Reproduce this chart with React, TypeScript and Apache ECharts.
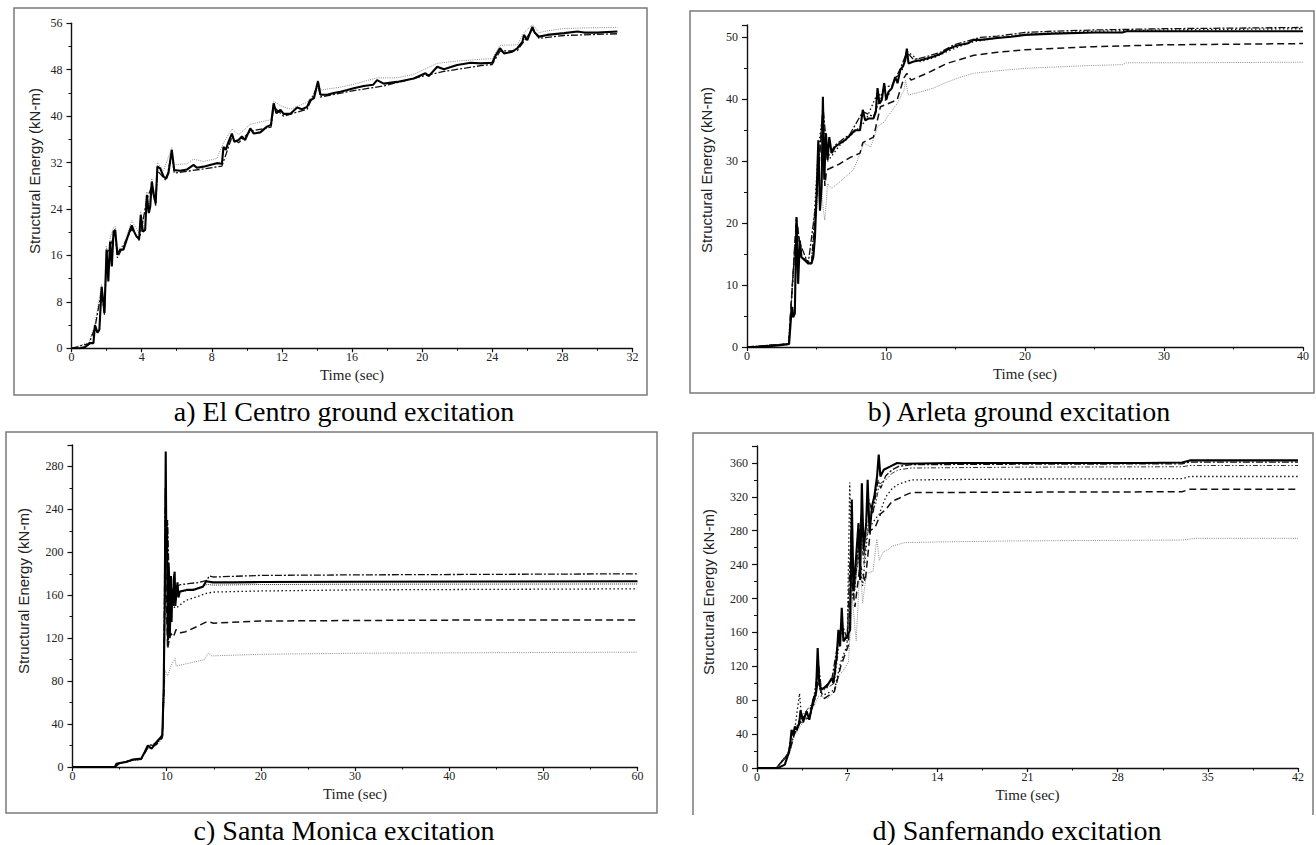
import React, { useEffect, useRef } from "react";
import * as echarts from "echarts";

type P = [number, number][];

// ---------- a) El Centro ----------
const elCentroSolid: P = [[0,0],[0.5,0],[0.77,0.2],[1.06,0.9],[1.25,0.9],[1.34,4.0],[1.48,2.7],[1.59,3.2],[1.72,10.6],[1.88,6.1],[2.0,17],[2.1,11.5],[2.2,18.4],[2.3,14.1],[2.4,20.1],[2.49,20.4],[2.62,16.1],[2.77,17],[2.96,17],[3.15,18.7],[3.34,20.4],[3.44,21.2],[3.57,20.1],[3.72,19.2],[3.86,19],[3.95,23],[4.07,20.1],[4.2,20.4],[4.3,26.4],[4.41,23.3],[4.49,24.4],[4.58,28.7],[4.71,26.1],[4.8,25],[4.9,31.3],[5.06,31],[5.25,29.6],[5.4,29.3],[5.53,30.2],[5.72,34.2],[5.86,30.7],[6.2,30.6],[6.58,30.8],[6.96,31.6],[7.15,31.1],[7.53,31.3],[7.9,31.6],[8.29,31.9],[8.58,31.8],[8.67,34.7],[8.8,34.2],[8.96,35.6],[9.15,37],[9.29,35.6],[9.53,35.9],[9.72,36.5],[9.9,35.9],[10.2,37.9],[10.4,37],[10.77,37.2],[11.15,38.2],[11.38,38.5],[11.53,42.2],[11.69,40.5],[11.92,41.1],[12.1,40.4],[12.49,40.4],[12.87,41.5],[13.15,41.2],[13.44,41.6],[13.6,42.7],[13.83,43.1],[14.06,46],[14.2,43.7],[14.58,43.7],[14.96,44],[15.34,44.2],[15.73,44.5],[16.1,44.8],[16.67,45.2],[17.2,45.4],[17.43,46.2],[17.81,45.6],[18.57,45.9],[19.52,46.5],[20.19,47.4],[20.38,46.9],[20.86,48.5],[21.24,48.1],[22.0,48.8],[22.77,49.2],[23.34,49.1],[24.0,49.2],[24.2,50.5],[24.44,51.7],[24.67,50.8],[25.14,51.1],[25.43,51.7],[25.72,52.8],[25.81,54],[26.0,53.1],[26.15,54.3],[26.29,55.4],[26.42,54.4],[26.67,53.7],[27.14,54],[28.1,54.3],[28.86,54.6],[29.24,54.4],[30.0,54.4],[31.14,54.6]];
const elCentroDotted: P = [[0,0],[1.0,1.0],[1.34,4.2],[1.72,11],[1.88,6.6],[2.0,17.6],[2.1,12.2],[2.2,19],[2.4,20.8],[2.5,21],[2.62,17],[2.96,17.8],[3.44,22],[3.86,19.8],[3.95,23.6],[4.07,20.8],[4.3,27],[4.41,24],[4.58,29.3],[4.8,25.8],[4.9,32],[5.25,30.6],[5.72,34.6],[5.86,31.6],[6.58,31.8],[6.96,32.6],[7.53,32.2],[8.29,32.7],[8.67,35.4],[9.15,37.8],[9.53,36.8],[10.2,38.6],[11.38,39.4],[11.53,42.6],[11.92,41.8],[12.49,41.2],[13.44,42.4],[13.83,43.8],[14.06,46.2],[14.2,44.5],[15.34,45],[16.1,45.5],[17.43,46.6],[18.57,46.6],[19.52,47.2],[20.86,49.1],[22.0,49.5],[23.34,49.8],[24.0,49.9],[24.44,52.2],[25.43,52.3],[25.81,54.4],[26.29,55.8],[26.67,54.4],[27.14,54.7],[28.1,55.1],[29.24,55.2],[31.14,55.3]];
const elCentroDashDot: P = [[0,0],[1.0,0.8],[1.34,3.6],[1.72,10],[1.88,5.8],[2.0,16.2],[2.2,17.6],[2.49,19.8],[2.62,15.6],[3.44,20.6],[3.86,18.6],[4.3,25.6],[4.58,28],[4.8,24.6],[4.9,30.6],[5.4,28.9],[5.72,33.6],[5.86,30.2],[7.53,30.9],[8.58,31.4],[9.15,36.4],[9.53,35.4],[10.2,37.4],[11.38,38.1],[11.53,41.6],[12.1,40],[13.44,41.2],[14.06,45.4],[14.2,43.3],[16.1,44.4],[17.81,45.2],[20.19,47],[21.24,47.7],[23.34,48.7],[24.0,48.9],[24.44,51.2],[25.43,51.3],[26.29,54.9],[26.67,53.4],[28.1,53.9],[31.14,54.2]];

// ---------- b) Arleta ----------
const arletaSolid: P = [[0,0],[1,0],[2.36,0.27],[2.84,0.4],[3.03,0.5],[3.15,4.3],[3.25,6.5],[3.32,4.8],[3.44,5.4],[3.56,21],[3.68,10.2],[3.8,17.2],[3.92,14.5],[4.16,14],[4.4,13.5],[4.64,13.5],[4.77,14.5],[4.89,17.8],[5.0,24.2],[5.13,33.4],[5.25,22],[5.37,25.9],[5.46,40.4],[5.56,27],[5.68,34.5],[5.8,30.2],[5.92,33.9],[6.09,31.3],[6.33,32.3],[6.69,32.9],[7.05,33.4],[7.41,34.2],[7.77,35],[8.13,35],[8.33,38.3],[8.5,36.6],[8.74,36.9],[9.1,36.9],[9.27,38],[9.39,41.8],[9.53,39.3],[9.7,39.9],[9.87,42.6],[10.01,39.9],[10.18,41.2],[10.42,41.8],[10.66,43.6],[10.83,42.6],[11.02,44.7],[11.22,45.3],[11.38,46.3],[11.5,48.2],[11.62,45.8],[11.99,46.1],[12.47,46.3],[12.95,46.6],[13.43,46.9],[13.91,47.3],[14.39,48],[14.87,48.5],[15.35,48.8],[15.84,49],[16.32,49.6],[16.8,49.6],[18,49.9],[19,50.1],[20,50.4],[22,50.6],[25,50.8],[27,50.8],[27.3,51],[30,51],[35,51],[40,51]];
const arletaDashDot: P = [[0,0],[3.0,0.5],[3.56,20.5],[3.8,16.8],[4.4,13.4],[5.0,24],[5.46,39],[5.8,30.6],[6.33,32.6],[7.41,34.4],[8.33,38],[9.1,37.2],[9.87,42],[10.42,42.2],[11.02,44.9],[11.5,47.6],[11.99,46.4],[12.95,46.9],[13.91,47.6],[14.87,48.8],[15.84,49.4],[16.8,50],[18,50.2],[20,50.8],[22,51],[25,51.2],[30,51.4],[35,51.5],[40,51.6]];
const arletaDotted: P = [[0,0],[3.0,0.5],[3.56,20],[3.92,14.3],[4.64,13.4],[5.13,32],[5.46,38],[5.8,30],[6.69,32.6],[7.77,34.8],[8.5,36.4],[9.39,41],[10.01,39.8],[10.66,43.2],[11.22,45],[11.5,47.8],[12.47,46.1],[13.43,46.7],[14.39,47.7],[15.35,48.6],[16.32,49.3],[18,49.9],[20,50.5],[25,51],[30,51.2],[40,51.4]];
const arletaDashed: P = [[0,0],[3.0,0.5],[3.56,20.8],[3.92,14.5],[4.64,13.5],[5.0,23.5],[5.46,38],[5.6,26],[5.73,28.6],[6.69,29.6],[7.41,30.6],[8.13,31.3],[8.33,33],[9.1,33.9],[9.6,38.8],[10.8,39.9],[11.3,43.5],[11.5,44.2],[11.8,43.1],[12.95,44.2],[14.39,45.8],[16.32,47.1],[18,47.6],[20,48],[25,48.5],[30,48.8],[40,49]];
const arletaGray: P = [[0,0],[3.0,0.5],[3.56,20.5],[3.92,14.4],[4.64,13.4],[5.0,22],[5.3,27],[5.5,22],[5.6,20.5],[5.8,26.4],[6.09,25.6],[6.69,26.7],[7.65,28.6],[7.9,29.9],[8.4,32.9],[8.9,32.3],[9.4,35.6],[9.9,36.4],[10.1,37.2],[10.8,39.3],[11.3,41.5],[11.4,43.1],[11.6,40.7],[12.5,41.2],[13.4,41.8],[14.4,42.8],[15.4,43.6],[16.3,44.2],[18,44.6],[20,45],[24,45.4],[27,45.6],[27.3,45.9],[32,45.9],[40,46]];

// ---------- c) Santa Monica ----------
const monicaSolid: P = [[0,0],[4.5,0],[4.66,3],[5.0,3.7],[5.7,4.7],[6.4,6.9],[7.3,7.8],[7.67,14],[8.0,20],[8.4,17],[8.9,23],[9.26,26.5],[9.54,29.6],[9.68,72],[9.79,150],[9.9,294],[9.96,212],[10.04,224],[10.1,130],[10.14,118],[10.2,190],[10.25,180],[10.32,120],[10.39,140],[10.45,178],[10.52,135],[10.6,165],[10.68,150],[10.75,175],[10.85,182],[10.92,150],[11.0,159],[11.15,172],[11.25,158],[11.4,163.6],[12.1,165],[12.8,165],[13.85,168],[14.2,173],[14.9,172],[17,172],[20,172.3],[30,172.6],[45,172.8],[60,173]];
const monicaDashDot: P = [[0,0],[4.5,0],[5,3.5],[6.4,6.7],[7.3,7.6],[8,19.5],[8.9,22.5],[9.54,29],[9.7,80],[9.85,260],[9.95,200],[10.1,230],[10.3,160],[10.5,165],[11,168],[11.5,170],[12.5,171],[13.5,172],[14.3,174],[14.5,178],[15,177],[20,178.5],[30,179],[45,179.5],[60,180]];
const monicaDenseDot: P = [[0,0],[4.5,0],[5,3.4],[6.4,6.6],[7.3,7.5],[8,19],[8.9,22],[9.54,28.5],[9.7,75],[9.88,230],[10.1,150],[10.5,158],[11,162],[12,164],[13,166],[14.3,170],[15,169.5],[20,170],[30,170.3],[60,170.5]];
const monicaDotted: P = [[0,0],[4.5,0],[5,3.3],[6.4,6.5],[7.3,7.4],[8,18.5],[8.9,21.5],[9.54,28],[9.7,70],[9.9,240],[10.2,150],[10.6,150],[11,148],[12,155],[13,158],[14.3,162],[15,163],[20,164],[30,165],[60,166]];
const monicaDashed: P = [[0,0],[4.5,0],[5,3.3],[6.4,6.4],[7.3,7.3],[8,18],[8.9,21],[9.54,27.5],[9.7,70],[9.85,200],[10.1,110],[10.4,125],[10.7,121],[11,128],[11.5,125],[12,126],[13,130],[14.3,135.5],[15,134],[20,136],[30,136.5],[45,137],[60,137]];
const monicaGray: P = [[0,0],[4.5,0],[5,3.2],[6.4,6.2],[7.3,7.1],[8,17],[8.9,20],[9.54,26],[9.7,60],[9.85,90],[10.1,85],[10.5,95],[10.9,101],[11,94],[12,96],[13,98],[14,100],[14.4,106],[14.8,103.5],[20,105],[30,106],[60,107]];

// ---------- d) Sanfernando ----------
const fernandoSolid: P = [[0,0],[1.5,0],[1.77,1],[2.16,4],[2.42,16],[2.55,23.6],[2.68,45],[2.81,39],[2.94,49],[3.07,45],[3.28,53],[3.38,68],[3.59,55],[3.85,67],[4.06,57],[4.37,81],[4.58,88.5],[4.71,141.6],[4.84,98],[5.02,93],[5.41,96],[5.8,106],[5.93,100],[6.19,132],[6.32,163],[6.45,143.6],[6.58,189],[6.71,149.5],[6.97,155],[7.23,163],[7.36,316.7],[7.49,210],[7.7,250],[7.88,289],[8.01,222],[8.14,336],[8.27,258],[8.48,289],[8.59,340],[8.74,277],[8.93,309],[9.11,320.6],[9.32,344],[9.45,370],[9.58,344],[9.84,352],[10.36,356],[10.88,360],[11.4,359],[15,360],[20,360],[25,360],[30,360],[33,360.5],[33.6,363],[36,363],[42,363]];
const fernandoDashDot: P = [[0,0],[1.5,0],[2.4,15],[2.7,42],[3.1,44],[3.4,62],[4.0,58],[4.6,86],[4.8,120],[5.0,92],[5.8,104],[6.3,150],[6.6,170],[7.0,152],[7.3,280],[7.5,200],[7.9,270],[8.1,300],[8.3,250],[8.6,320],[9.0,300],[9.4,340],[9.6,330],[10,345],[10.5,352],[11,356],[12,358],[20,358.5],[33,359],[33.6,361],[42,361]];
const fernandoDashDotDot: P = [[0,0],[1.5,0],[2.5,20],[2.8,40],[3.4,60],[4.4,78],[4.7,120],[5,90],[6,100],[6.5,160],[7,150],[7.4,250],[7.6,210],[8,280],[8.3,240],[8.7,300],[9.2,310],[9.5,335],[10,340],[10.5,348],[11,352],[12,354],[20,355],[33,355.5],[33.6,357],[42,357]];
const fernandoDotted: P = [[0,0],[1.5,0],[2.5,18],[2.9,42],[3.3,88],[3.5,52],[4.2,65],[4.7,110],[5,85],[6,92],[6.5,125],[7,145],[7.2,337],[7.4,200],[7.9,250],[8.2,215],[8.6,280],[9,290],[9.5,300],[10,320],[10.5,330],[11,335],[12,340],[20,341],[33,341.5],[33.6,344],[42,344]];
const fernandoDashed: P = [[0,0],[1.5,0],[2.5,18],[2.9,40],[3.4,55],[4.4,75],[4.7,100],[5.2,82],[6,90],[6.5,120],[7.1,145],[7.3,230],[7.6,190],[8,240],[8.4,220],[8.8,280],[9.2,285],[9.6,300],[10,305],[10.5,315],[11,318],[11.5,322],[12,325],[20,325.5],[33,326],[33.6,329],[42,329]];
const fernandoGray: P = [[0,0],[1.5,0],[2.5,16],[2.9,38],[3.4,50],[4.4,72],[4.8,85],[5.5,82],[6,90],[6.4,110],[6.7,115],[7.1,125],[7.4,200],[7.7,150],[8,240],[8.2,195],[8.5,230],[9.0,232],[9.3,270],[9.5,245],[9.8,255],[10.2,258],[10.5,262],[11,264],[11.5,266],[15,267],[20,268],[33,269],[34,271],[42,271]];

const captions = [
  "a) El Centro ground excitation",
  "b) Arleta ground excitation",
  "c) Santa Monica excitation",
  "d) Sanfernando excitation",
];
const yTitle = "Structural Energy (kN-m)";
const xTitle = "Time (sec)";

// axis ranges [xMax, xInterval, yMax, yInterval]
const axisRanges: [number, number, number, number][] = [
  [32, 4, 56, 8],
  [40, 10, 52, 10],
  [60, 10, 300, 40],
  [42, 7, 380, 40],
];

const S = {
  solidThick: { color: "#000", width: 2.1, type: "solid" },
  dashDot: { color: "#111", width: 1.3, type: [7, 2, 2, 2] },
  dashDotDot: { color: "#333", width: 1, type: [5, 2, 1.5, 2, 1.5, 2] },
  dotBlack: { color: "#111", width: 1.3, type: [1.5, 2.5] },
  denseDot: { color: "#333", width: 1, type: [1, 1] },
  dashed: { color: "#111", width: 1.5, type: [7, 4] },
  grayDot: { color: "#8a8a8a", width: 1, type: [1, 1.2] },
};

const grids = [
  { left: 71.5, top: 23.3, width: 561, height: 325 },
  { left: 747, top: 25, width: 556, height: 322 },
  { left: 72.5, top: 445, width: 565, height: 322 },
  { left: 757, top: 446, width: 541, height: 322 },
];

export default function App() {
  const ref = useRef<HTMLDivElement>(null);
  useEffect(() => {
    document.body.style.margin = "0";
    if (!ref.current) return;
    const chart = echarts.init(ref.current, undefined, { renderer: "svg" });

    const xAxes = axisRanges.map(([xMax, xInt], i) => ({
      type: "value",
      gridIndex: i,
      min: 0,
      max: xMax,
      interval: xInt,
      name: xTitle,
      nameLocation: "middle",
      nameGap: 19,
      nameTextStyle: { fontFamily: "Liberation Serif", fontSize: 15, color: "#222" },
      axisLine: { show: true, onZero: false, lineStyle: { color: "#111", width: 1.4 } },
      axisTick: { show: true, inside: false, length: 4, lineStyle: { color: "#111", width: 1.2 } },
      minorTick: { show: true, splitNumber: 2, length: 2.5, lineStyle: { color: "#111", width: 1 } },
      splitLine: { show: false },
      minorSplitLine: { show: false },
      axisLabel: { fontFamily: "Liberation Serif", fontSize: 12, color: "#222", margin: 3 },
    }));
    const yAxes = axisRanges.map(([, , yMax, yInt], i) => ({
      type: "value",
      gridIndex: i,
      min: 0,
      max: yMax,
      interval: yInt,
      axisLine: { show: true, onZero: false, lineStyle: { color: "#111", width: 1.4 } },
      axisTick: { show: true, inside: false, length: 5, lineStyle: { color: "#111", width: 1.2 } },
      minorTick: { show: true, splitNumber: 2, length: 3, lineStyle: { color: "#111", width: 1 } },
      splitLine: { show: false },
      minorSplitLine: { show: false },
      axisLabel: {
        fontFamily: "Liberation Serif",
        fontSize: 12,
        color: "#222",
        margin: 9,
        showMaxLabel: yMax % yInt === 0,
      },
    }));

    const mk = (name: string, data: P, idx: number, style: any, z: number) => ({
      type: "line",
      name,
      xAxisIndex: idx,
      yAxisIndex: idx,
      data,
      symbol: "none",
      showSymbol: false,
      silent: true,
      z,
      lineStyle: style,
    });

    const series = [
      mk("El Centro dotted", elCentroDotted, 0, S.grayDot, 2),
      mk("El Centro dash-dot", elCentroDashDot, 0, S.dashDot, 3),
      mk("El Centro solid", elCentroSolid, 0, S.solidThick, 5),
      mk("Arleta gray", arletaGray, 1, S.grayDot, 2),
      mk("Arleta dashed", arletaDashed, 1, S.dashed, 3),
      mk("Arleta dotted", arletaDotted, 1, S.dotBlack, 3),
      mk("Arleta dash-dot", arletaDashDot, 1, S.dashDot, 3),
      mk("Arleta solid", arletaSolid, 1, S.solidThick, 5),
      mk("Santa Monica gray", monicaGray, 2, S.grayDot, 2),
      mk("Santa Monica dashed", monicaDashed, 2, S.dashed, 3),
      mk("Santa Monica dotted", monicaDotted, 2, S.dotBlack, 3),
      mk("Santa Monica dense dot", monicaDenseDot, 2, S.denseDot, 3),
      mk("Santa Monica dash-dot", monicaDashDot, 2, S.dashDot, 3),
      mk("Santa Monica solid", monicaSolid, 2, S.solidThick, 5),
      mk("Sanfernando gray", fernandoGray, 3, S.grayDot, 2),
      mk("Sanfernando dashed", fernandoDashed, 3, S.dashed, 3),
      mk("Sanfernando dotted", fernandoDotted, 3, S.dotBlack, 3),
      mk("Sanfernando dash-dot-dot", fernandoDashDotDot, 3, S.dashDotDot, 3),
      mk("Sanfernando dash-dot", fernandoDashDot, 3, S.dashDot, 3),
      mk("Sanfernando solid", fernandoSolid, 3, S.solidThick, 5),
    ];

    const boxStyle = { fill: "none", stroke: "#7a7a7a", lineWidth: 1.5 };
    const capFont = "28px 'Liberation Serif', 'Times New Roman', serif";
    const yFont = "15px 'Liberation Sans', Arial, sans-serif";
    const capPos: [number, number][] = [[344, 411], [1019, 411], [344, 830], [1017, 830]];
    const yNamePos: [number, number][] = [[34.5, 171], [706.5, 170], [23, 591], [708.5, 592]];

    const graphic: any[] = [
      { type: "rect", silent: true, shape: { x: 14, y: 8, width: 633, height: 387 }, style: boxStyle },
      { type: "rect", silent: true, shape: { x: 690, y: 11, width: 624, height: 382 }, style: boxStyle },
      { type: "rect", silent: true, shape: { x: 6, y: 432, width: 651, height: 381 }, style: boxStyle },
      { type: "polyline", silent: true, shape: { points: [[693, 815], [693, 433], [1313, 433], [1313, 815]] }, style: boxStyle },
    ];
    captions.forEach((c, i) => {
      graphic.push({
        type: "text",
        silent: true,
        x: capPos[i][0],
        y: capPos[i][1],
        style: { text: c, font: capFont, fill: "#000", align: "center", verticalAlign: "middle" },
      });
    });
    yNamePos.forEach((p) => {
      graphic.push({
        type: "text",
        silent: true,
        x: p[0],
        y: p[1],
        rotation: Math.PI / 2,
        style: { text: yTitle, font: yFont, fill: "#222", align: "center", verticalAlign: "middle" },
      });
    });

    chart.setOption({
      animation: false,
      backgroundColor: "#fff",
      grid: grids.map((g) => ({ ...g, containLabel: false, outerBoundsMode: "none" })),
      xAxis: xAxes,
      yAxis: yAxes,
      series,
      graphic,
    } as any);

    return () => chart.dispose();
  }, []);

  return <div ref={ref} style={{ width: 1316, height: 845 }} />;
}
